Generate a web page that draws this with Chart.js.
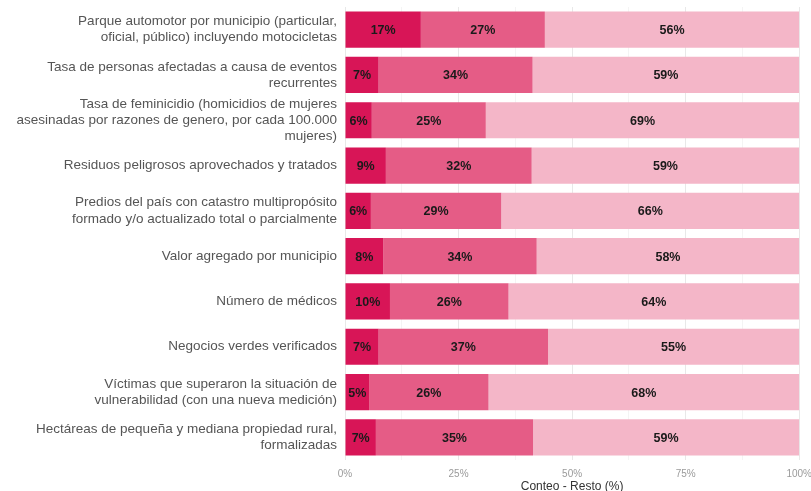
<!DOCTYPE html>
<html>
<head>
<meta charset="utf-8">
<script src="https://cdn.jsdelivr.net/npm/chart.js@4"></script>
<style>
    html, body { margin: 0; padding: 0; background: #fff; overflow: hidden; }
    #wrap { width: 820px; height: 491px; }
</style>
</head>
<body>
<div id="wrap"><canvas id="chart"></canvas></div>
<script>
// Data
const categories = [
    ["Parque automotor por municipio (particular,", "oficial, público) incluyendo motocicletas"],
    ["Tasa de personas afectadas a causa de eventos", "recurrentes"],
    ["Tasa de feminicidio (homicidios de mujeres", "asesinadas por razones de genero, por cada 100.000", "mujeres)"],
    "Residuos peligrosos aprovechados y tratados",
    ["Predios del país con catastro multipropósito", "formado y/o actualizado total o parcialmente"],
    "Valor agregado por municipio",
    "Número de médicos",
    "Negocios verdes verificados",
    ["Víctimas que superaron la situación de", "vulnerabilidad (con una nueva medición)"],
    ["Hectáreas de pequeña y mediana propiedad rural,", "formalizadas"]
];
const conteo = [16.7, 7.4, 5.9, 9.0, 5.7, 8.4, 9.9, 7.4, 5.3, 6.8];
const avance = [27.3, 33.9, 25.1, 32.1, 28.7, 33.8, 26.1, 37.3, 26.3, 34.6];
const resto = [56.0, 58.7, 69.0, 58.9, 65.6, 57.8, 64.0, 55.3, 68.4, 58.6];
const xTicks = [0, 25, 50, 75, 100];

// Plugin: percent labels in the middle of each segment
const segmentLabels = {
    id: "segmentLabels",
    afterDatasetsDraw(chart) {
        const ctx = chart.ctx;
        ctx.save();
        ctx.font = "bold 12.5px 'Liberation Sans', Arial, sans-serif";
        ctx.fillStyle = "#1a1a1a";
        ctx.textAlign = "center";
        ctx.textBaseline = "middle";
        chart.data.datasets.forEach((ds, i) => {
            chart.getDatasetMeta(i).data.forEach((bar, j) => {
                ctx.fillText(Math.round(ds.data[j]) + "%", (bar.x + bar.base) / 2, bar.y + 1);
            });
        });
        ctx.restore();
    }
};

new Chart(document.getElementById("chart"), {
    type: "bar",
    data: {
        labels: categories,
        datasets: [
            {label: "Conteo", data: conteo, backgroundColor: "#d81557"},
            {label: "Avance", data: avance, backgroundColor: "#e55c86"},
            {label: "Resto", data: resto, backgroundColor: "#f4b6c8"}
        ]
    },
    options: {
        indexAxis: "y",
        responsive: true,
        maintainAspectRatio: false,
        animation: false,
        layout: {padding: {top: 7, bottom: 0, left: 0, right: 0}},
        datasets: {bar: {barPercentage: 0.8, categoryPercentage: 1}},
        plugins: {legend: {display: false}, tooltip: {enabled: false}},
        scales: {
            x: {
                stacked: true,
                min: 0,
                max: 100,
                border: {display: false},
                grid: {
                    drawTicks: false,
                    color: c => xTicks.includes(c.tick.value) ? "#e8e8e8" : "#f4f4f4"
                },
                ticks: {
                    stepSize: 12.5,
                    padding: 8,
                    autoSkip: false,
                    maxRotation: 0,
                    color: "#9a9a9a",
                    font: {family: "'Liberation Sans', Arial, sans-serif", size: 10},
                    callback: v => xTicks.includes(v) ? v + "%" : ""
                },
                title: {
                    display: true,
                    text: "Conteo - Resto (%)",
                    color: "#333",
                    padding: {top: 0, bottom: -3},
                    font: {family: "'Liberation Sans', Arial, sans-serif", size: 12}
                },
                afterFit: s => { s.height = 31; }
            },
            y: {
                stacked: true,
                border: {display: false},
                grid: {display: false, drawTicks: false},
                ticks: {
                    autoSkip: false,
                    padding: 8,
                    color: "#555",
                    font: {family: "'Liberation Sans', Arial, sans-serif", size: 13.5, lineHeight: 1.2}
                },
                afterFit: s => {
                    s.width = 345;
                    s.paddingTop = 0;
                    s.paddingBottom = 0;
                }
            }
        }
    },
    plugins: [segmentLabels]
});
</script>
</body>
</html>
